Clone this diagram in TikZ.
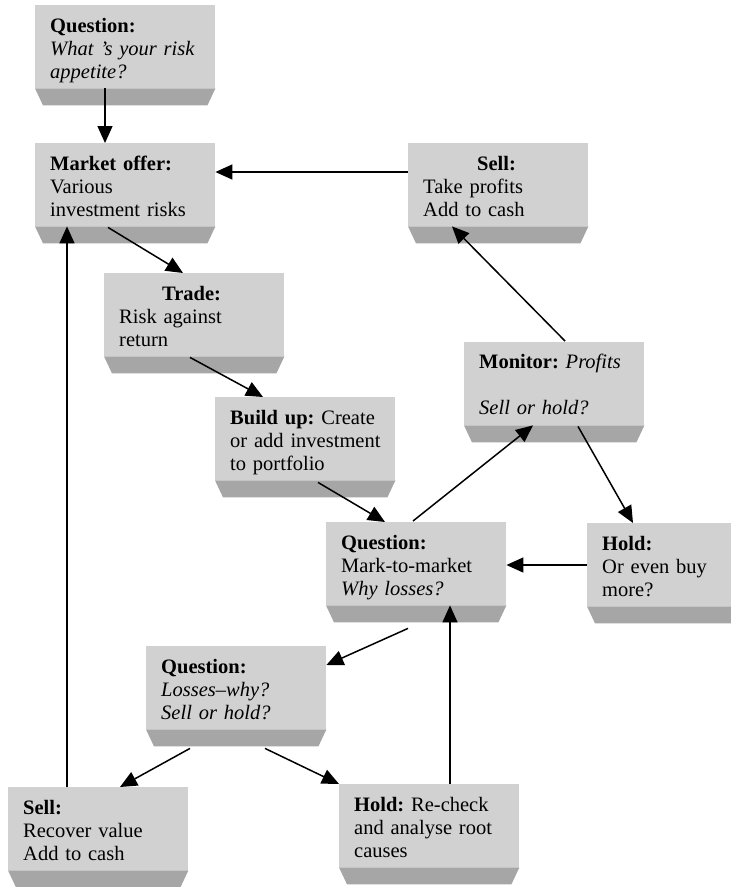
\documentclass[tikz,border=0pt]{standalone}
\usepackage{fontspec}
\setmainfont{Liberation Serif}
\usetikzlibrary{arrows.meta,calc}
\definecolor{boxc}{RGB}{209,209,209}
\definecolor{shelfc}{RGB}{166,166,166}
\newcommand\shelfunder[1]{\fill[shelfc] (#1.south west) -- (#1.south east) -- ([xshift=-8pt,yshift=-17pt]#1.south east) -- ([xshift=8pt,yshift=-17pt]#1.south west) -- cycle;}
\tikzset{
  box/.style={anchor=north west, minimum width=180pt, minimum height=83pt, inner sep=0pt, fill=boxc, draw=none},
  txt/.style={anchor=base west, inner sep=0pt, text width=172pt, align=left, font=\fontsize{20.5}{23}\selectfont\frenchspacing},
  arr/.style={-{Triangle[length=17pt,width=15pt]}, line width=1.5pt},
}
\begin{document}
\begin{tikzpicture}[x=1pt,y=-1pt]
\clip (0,0) rectangle (731,887);
\fill[white] (0,0) rectangle (731,887);
% boxes
\node[box] (qa) at (35,5) {};
\node[box] (mo) at (35,143) {};
\node[box] (sa) at (408,143) {};
\node[box] (tr) at (104,273) {};
\node[box] (bu) at (215,397) {};
\node[box] (mon) at (464,342) {};
\node[box] (qm) at (326,522) {};
\node[box] (hr) at (587,523) {};
\node[box] (ql) at (146,646) {};
\node[box] (sb) at (8,787) {};
\node[box] (hb) at (339,784) {};
\foreach \b in {qa,mo,sa,tr,bu,mon,qm,hr,ql,sb,hb}{\shelfunder{\b}}
% texts
\node[txt] (qat) at ([xshift=15pt,yshift=-27pt]qa.north west) {\textbf{Question:}\\ \textit{What ’s your risk}\\ \textit{appetite?}};
\node[txt] (mot) at ([xshift=15pt,yshift=-27pt]mo.north west) {\textbf{Market offer:}\\ Various\\ investment risks};
\node[txt] (sat) at ([xshift=15pt,yshift=-27pt]sa.north west) {\hspace*{54pt}\textbf{Sell:}\\ Take profits\\ Add to cash};
\node[txt] (trt) at ([xshift=15pt,yshift=-27pt]tr.north west) {\hspace*{43pt}\textbf{Trade:}\\ Risk against\\ return};
\node[txt] (but) at ([xshift=15pt,yshift=-27pt]bu.north west) {\textbf{Build up:} Create\\ or add investment\\ to portfolio};
\node[txt] (mont) at ([xshift=15pt,yshift=-26pt]mon.north west) {\textbf{Monitor:} \textit{Profits}\\[23pt] \textit{Sell or hold?}};
\node[txt] (qmt) at ([xshift=15pt,yshift=-27pt]qm.north west) {\textbf{Question:}\\ Mark-to-market\\ \textit{Why losses?}};
\node[txt] (hrt) at ([xshift=15pt,yshift=-27pt]hr.north west) {\textbf{Hold:}\\ Or even buy\\ more?};
\node[txt] (qlt) at ([xshift=15pt,yshift=-27pt]ql.north west) {\textbf{Question:}\\ \textit{Losses–why?}\\ \textit{Sell or hold?}};
\node[txt] (sbt) at ([xshift=15pt,yshift=-27pt]sb.north west) {\textbf{Sell:}\\ Recover value\\ Add to cash};
\node[txt] (hbt) at ([xshift=15pt,yshift=-27pt]hb.north west) {\textbf{Hold:} Re-check\\ and analyse root\\ causes};
% arrows
\draw[arr] ($(qa.south west)+(70,0)$) -- ($(mo.north west)+(70,0)$);
\draw[arr] ($(sa.north west)+(0,29)$) -- ($(mo.north east)+(0,29)$);
\draw[arr] ($(mo.south west)+(73,1)$) -- ($(tr.north west)+(79,0)$);
\draw[arr] ($(tr.south west)+(86,1)$) -- ($(bu.north west)+(48,0)$);
\draw[arr] ($(bu.south west)+(103,2)$) -- ($(qm.north west)+(59,0)$);
\draw[arr] ($(qm.north west)+(87,-1)$) -- ($(mon.south west)+(69,0)$);
\draw[arr] ($(mon.north west)+(101,-1)$) -- ($(sa.south west)+(44,0)$);
\draw[arr] ($(mon.south west)+(114,1)$) -- ($(hr.north west)+(46,0)$);
\draw[arr] ($(hr.north west)+(0,42)$) -- ($(qm.north east)+(0,43)$);
\draw[arr] ($(qm.south west)+(82,23)$) -- ($(ql.north east)+(0,19)$);
\draw[arr] ($(hb.north west)+(111,0)$) -- ($(qm.south west)+(124,0)$);
\draw[arr] ($(ql.south west)+(44,19)$) -- ($(sb.north west)+(112,0)$);
\draw[arr] ($(ql.south west)+(119,19)$) -- (hb.north west);
\draw[arr] ($(sb.north west)+(59,0)$) -- ($(mo.south west)+(32,0)$);
\end{tikzpicture}
\end{document}
